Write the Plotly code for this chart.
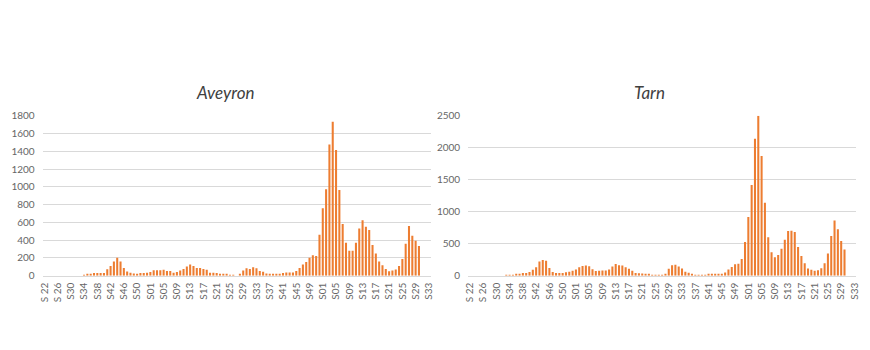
import plotly.graph_objects as go

# ---- categories: ISO weeks from 2020-S22 to 2022-S33 ----
years_weeks = [(2020, 22, 53), (2021, 1, 52), (2022, 1, 33)]
categories = [f"{y}-S{w:02d}" for (y, a, b) in years_weeks for w in range(a, b + 1)]

tick_labels = ["S 22", "S 26", "S30", "S34", "S38", "S42", "S46", "S50", "S01", "S05",
               "S09", "S13", "S17", "S21", "S25", "S29", "S33", "S37", "S41", "S45",
               "S49", "S01", "S05", "S09", "S13", "S17", "S21", "S25", "S29", "S33"]

aveyron = ([0] * 12 + [3] +
           [11, 18, 29, 29, 29, 29, 73, 109, 160, 200,
            160, 87, 47, 33, 25, 22, 29, 29, 33, 40,
            62, 62, 62, 65, 51, 51, 33, 40, 58, 76,
            102, 124, 109, 87, 87, 76, 65, 33, 33, 29,
            22, 15, 11, 7, 3, 0, 18, 58, 84, 76,
            95, 84, 51, 44, 25, 15, 15, 15, 15, 29,
            36, 36, 36, 51, 87, 124, 153, 200, 229, 220,
            460, 758, 973, 1478, 1732, 1415, 965, 582, 369, 280,
            280, 369, 532, 623, 551, 515, 345, 249, 158, 116,
            75, 49, 58, 69, 108, 187, 360, 560, 449, 393, 335] +
           [None] * 3)

tarn = ([0] * 11 +
        [5, 10, 10, 15, 30, 40, 40, 56, 91, 131,
         222, 246, 234, 120, 56, 40, 40, 40, 51, 61,
         76, 96, 131, 152, 157, 146, 101, 71, 76, 81,
         81, 96, 141, 182, 162, 157, 131, 108, 76, 42,
         38, 35, 30, 15, 5, 5, 5, 5, 25, 106,
         162, 172, 141, 111, 61, 45, 25, 10, 10, 10,
         10, 15, 20, 20, 20, 25, 50, 96, 136, 180,
         185, 260, 525, 919, 1419, 2141, 2500, 1873, 1141, 601,
         364, 288, 323, 419, 561, 697, 702, 682, 449, 308,
         192, 111, 91, 76, 86, 116, 192, 348, 621, 864,
         727, 540, 409] +
        [None] * 3)

ORANGE = "#ED7D31"
GRID = "#D9D9D9"
TXT = "#666666"
FONT = "Lato"

fig = go.Figure()
fig.add_trace(go.Bar(x=categories, y=aveyron, marker_color=ORANGE, marker_line_width=0,
                     xaxis="x", yaxis="y", name="Aveyron"))
fig.add_trace(go.Bar(x=categories, y=tarn, marker_color=ORANGE, marker_line_width=0,
                     xaxis="x2", yaxis="y2", name="Tarn"))

ydom = [(350 - 279) / 350, (350 - 113) / 350]

xcommon = dict(type="category", tickmode="array", tickvals=categories[::4], ticktext=tick_labels,
               tickangle=-90, tickfont=dict(family=FONT, size=10, color=TXT),
               showgrid=False, zeroline=False, showline=True, linecolor=GRID, linewidth=1,
               ticks="", ticklabelstandoff=2, range=[-0.5, len(categories) - 0.5])
ycommon = dict(showgrid=True, gridcolor=GRID, gridwidth=1, zeroline=False, showline=False,
               ticks="", tickfont=dict(family=FONT, size=10, color=TXT), ticklabelstandoff=7)

fig.update_layout(
    width=870, height=350,
    margin=dict(l=0, r=0, t=0, b=0),
    paper_bgcolor="white", plot_bgcolor="white",
    showlegend=False, bargap=0.38,
    font=dict(family=FONT, color=TXT),
    xaxis=dict(domain=[38 / 870, 430 / 870], anchor="y", **xcommon),
    yaxis=dict(domain=ydom, anchor="x", range=[0, 1800], dtick=200, **ycommon),
    xaxis2=dict(domain=[468 / 870, 860 / 870], anchor="y2", **xcommon),
    yaxis2=dict(domain=ydom, anchor="x2", range=[0, 2500], dtick=500, **ycommon),
    annotations=[
        dict(text="Aveyron", x=222 / 870, y=1 - 89 / 350, xref="paper", yref="paper",
             showarrow=False, xanchor="center", yanchor="middle",
             font=dict(family=FONT, size=17, color="#404040", style="italic")),
        dict(text="Tarn", x=651 / 870, y=1 - 89 / 350, xref="paper", yref="paper",
             showarrow=False, xanchor="center", yanchor="middle",
             font=dict(family=FONT, size=17, color="#404040", style="italic")),
    ],
)

fig.write_html("out.html")
